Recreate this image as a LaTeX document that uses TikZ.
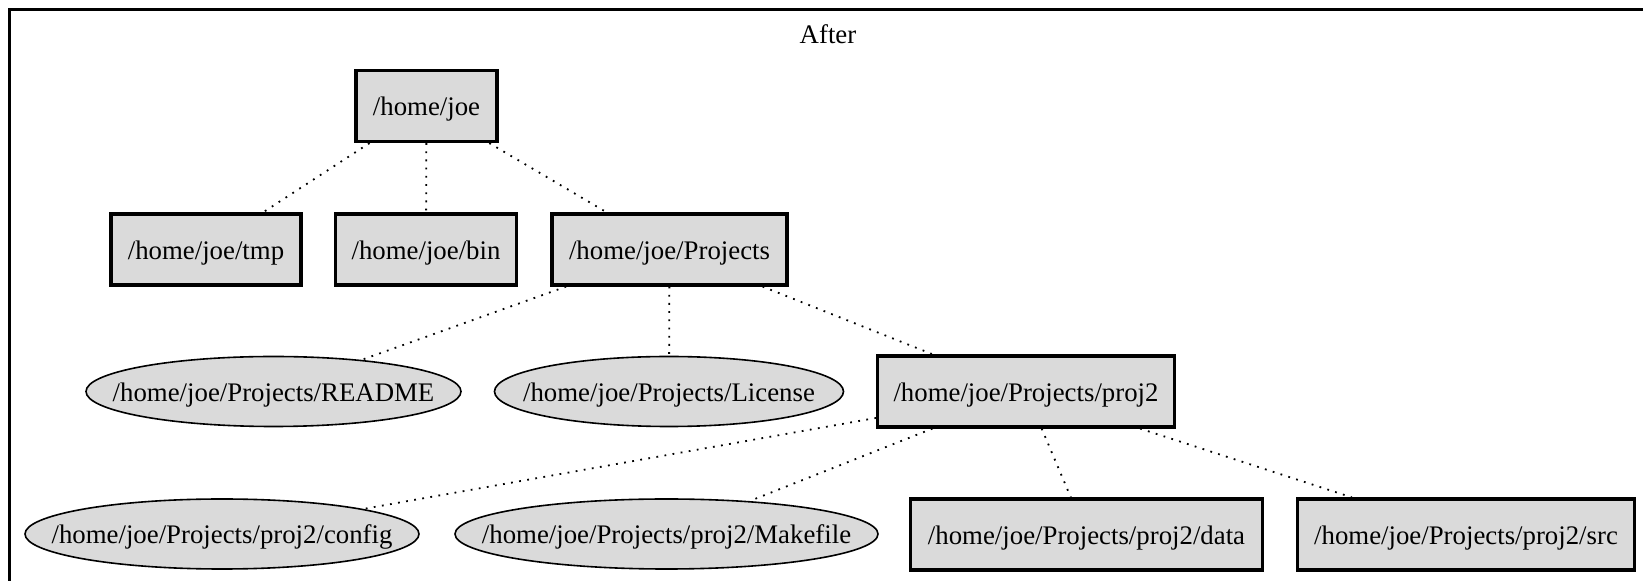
\documentclass[tikz,border=0pt]{standalone}
\usepackage{fontspec}
\setmainfont{Liberation Serif}
\usetikzlibrary{shapes.geometric}
\definecolor{fillc}{RGB}{218,218,218}
\newcommand{\lowtxt}[1]{\raisebox{-1.6pt}[\height][\depth]{#1}}
\tikzset{
  every node/.style={font=\fontsize{13.4}{16}\selectfont},
  dirbox/.style={draw=black, line width=1.6pt, fill=fillc, rectangle, inner sep=0pt, minimum height=35.5pt},
  filell/.style={draw=black, line width=0.8pt, fill=fillc, ellipse, inner sep=0pt, minimum height=35pt},
  edge/.style={line width=0.9pt, dash pattern=on 0.9pt off 3.2pt}
}
\begin{document}
\begin{tikzpicture}[x=0.5pt,y=-0.5pt]
\useasboundingbox (0,0) rectangle (1643,581);
\draw[line width=1.8pt] (9.5,590) -- (9.5,9.5) -- (1660,9.5);
\node (title) at (828,34) {After};
\node[dirbox, minimum width=70.5pt] (joe) at (426.5,106) {\lowtxt{/home/joe}};
\node[dirbox, minimum width=95pt] (tmp) at (206,249.5) {\lowtxt{/home/joe/tmp}};
\node[dirbox, minimum width=90.75pt] (bin) at (426,249.5) {\lowtxt{/home/joe/bin}};
\node[dirbox, minimum width=117.5pt] (proj) at (669.5,249.5) {\lowtxt{/home/joe/Projects}};
\node[filell, minimum width=187.5pt, label=center:{\lowtxt{/home/joe/Projects/README}}] (readme) at (273.5,391.5) {};
\node[filell, minimum width=174.5pt, label=center:{\lowtxt{/home/joe/Projects/License}}] (lic) at (669,391.5) {};
\node[dirbox, minimum width=148.25pt] (proj2) at (1026,391.5) {\lowtxt{/home/joe/Projects/proj2}};
\node[filell, minimum width=197pt, label=center:{\lowtxt{/home/joe/Projects/proj2/config}}] (config) at (222,534) {};
\node[filell, minimum width=211.5pt, label=center:{\lowtxt{/home/joe/Projects/proj2/Makefile}}] (make) at (666.5,534) {};
\node[dirbox, minimum width=176pt] (data) at (1086.5,534.5) {\lowtxt{/home/joe/Projects/proj2/data}};
\node[dirbox, minimum width=168.75pt] (src) at (1466,534.5) {\lowtxt{/home/joe/Projects/proj2/src}};
\draw[edge] (joe) -- (tmp);
\draw[edge] (joe) -- (bin);
\draw[edge] (joe) -- (proj);
\draw[edge] (proj) -- (readme);
\draw[edge] (proj) -- (lic);
\draw[edge] (proj) -- (proj2);
\draw[edge] (proj2) -- (config);
\draw[edge] (proj2) -- (make);
\draw[edge] (proj2) -- (data);
\draw[edge] (proj2) -- (src);
\end{tikzpicture}
\end{document}
